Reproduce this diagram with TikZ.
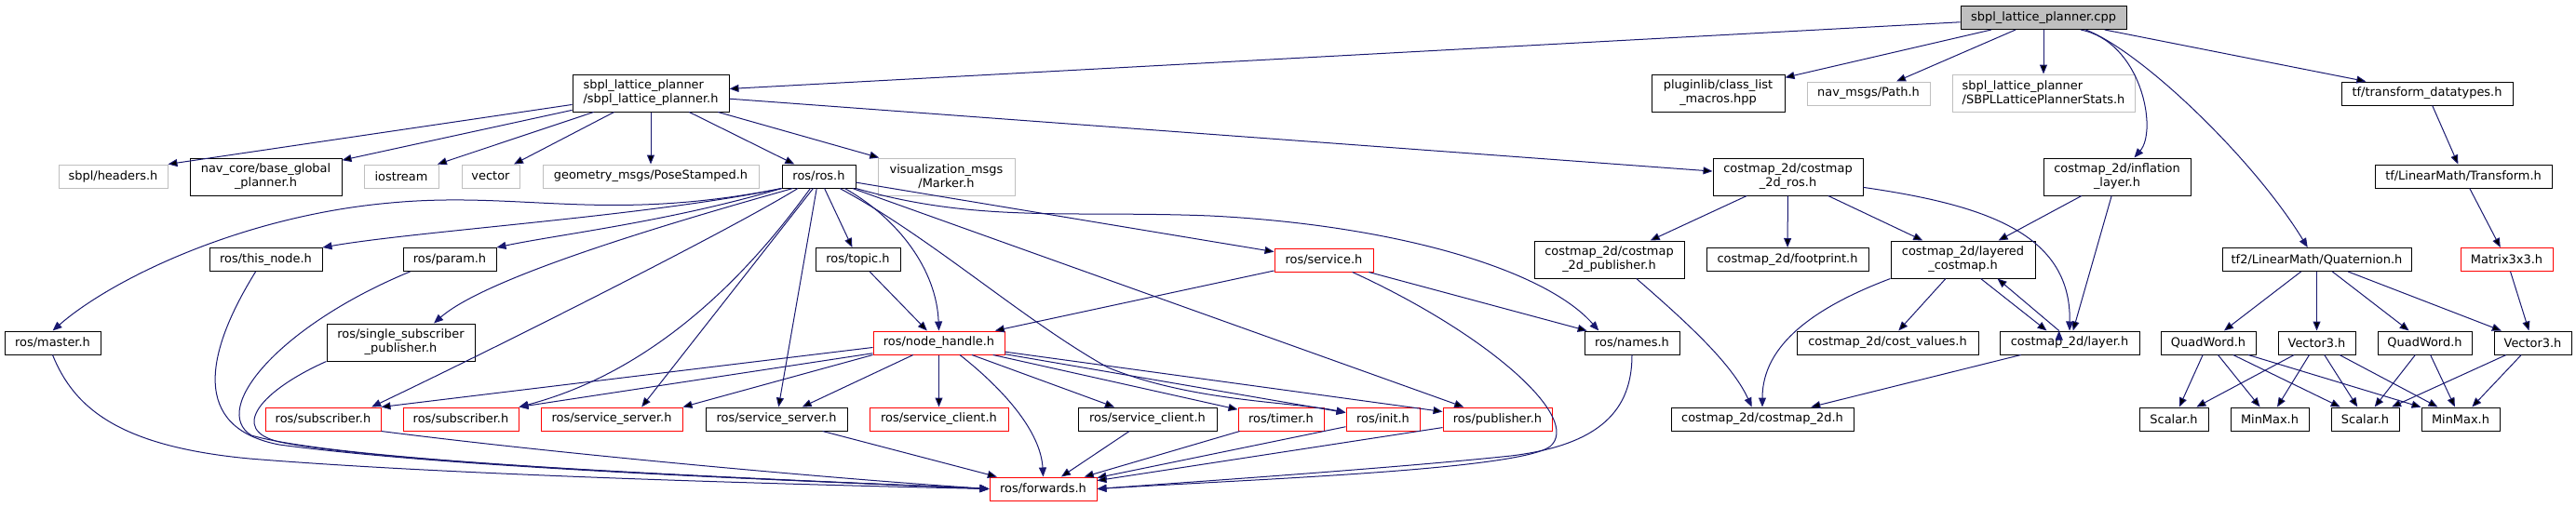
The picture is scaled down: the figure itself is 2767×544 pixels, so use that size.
\documentclass[tikz,border=0pt]{standalone}
\usepackage{fontspec}
\setmainfont{DejaVu Sans}
\usetikzlibrary{arrows.meta}

\definecolor{navy}{HTML}{191970}
\definecolor{grey75}{HTML}{BFBFBF}

\begin{document}
\begin{tikzpicture}[x=0.75pt,y=-0.75pt,font=\fontsize{9.7}{11.3}\selectfont,
   box/.style={draw=black,line width=0.75pt,inner sep=0pt,align=center,minimum height=18.75pt},
   ext/.style={box,draw=grey75},
   cut/.style={box,draw=red},
   root/.style={box,fill=grey75},
   tall/.style={minimum height=30pt},
   wd/.style={minimum width=#1*0.75pt},
   link/.style={draw=navy,line width=0.75pt,-{Triangle[length=7.5pt,width=6pt]}}]
\useasboundingbox (0,0) rectangle (2767,544);
% Here is where we put each header, one row of the graph after the other
   \node[root,wd=178] (cpp) at (2195,19) {sbpl\_lattice\_planner.cpp};

   \node[box,wd=168,tall,align=left] (sbplh) at (699,100) {sbpl\_lattice\_planner\\/sbpl\_lattice\_planner.h};
   \node[box,wd=143,tall] (plugin) at (1845.5,100) {pluginlib/class\_list\\\_macros.hpp};
   \node[ext,wd=132] (path) at (2007,100.5) {nav\_msgs/Path.h};
   \node[ext,wd=196,tall,align=left] (stats) at (2195,100) {sbpl\_lattice\_planner\\/SBPLLatticePlannerStats.h};
   \node[box,wd=184] (tfdt) at (2607,100.5) {tf/transform\_datatypes.h};

   \node[ext,wd=117] (headers) at (121.5,189.5) {sbpl/headers.h};
   \node[box,wd=163,tall] (navcore) at (285.5,190) {nav\_core/base\_global\\\_planner.h};
   \node[ext,wd=80] (iostream) at (431,189.5) {iostream};
   \node[ext,wd=62] (vector) at (527,189.5) {vector};
   \node[ext,wd=232] (pose) at (699,189.5) {geometry\_msgs/PoseStamped.h};
   \node[box,wd=79] (ros) at (879.5,189.5) {ros/ros.h};
   \node[ext,wd=147,tall] (marker) at (1016.5,190) {visualization\_msgs\\/Marker.h};
   \node[box,wd=161,tall] (cmros) at (1920.5,190) {costmap\_2d/costmap\\\_2d\_ros.h};
   \node[box,wd=158,tall] (inflation) at (2274,190) {costmap\_2d/inflation\\\_layer.h};
   \node[box,wd=190] (transform) at (2646,189.5) {tf/LinearMath/Transform.h};

   \node[box,wd=121] (thisnode) at (285.5,279) {ros/this\_node.h};
   \node[box,wd=100] (param) at (483,279) {ros/param.h};
   \node[box,wd=91] (topic) at (921.5,279) {ros/topic.h};
   \node[cut,wd=106] (service) at (1422,279.5) {ros/service.h};
   \node[box,wd=161,tall] (cmpub) at (1728.5,279) {costmap\_2d/costmap\\\_2d\_publisher.h};
   \node[box,wd=174] (footprint) at (1920,279) {costmap\_2d/footprint.h};
   \node[box,wd=155,tall] (layered) at (2108.5,279) {costmap\_2d/layered\\\_costmap.h};
   \node[box,wd=203] (quat) at (2488.5,279) {tf2/LinearMath/Quaternion.h};
   \node[cut,wd=99] (matrix) at (2692.5,279) {Matrix3x3.h};

   \node[box,wd=103] (master) at (56.5,368.5) {ros/master.h};
   \node[box,wd=159,tall] (single) at (430.5,368) {ros/single\_subscriber\\\_publisher.h};
   \node[cut,wd=141] (nodehandle) at (1008.5,368.5) {ros/node\_handle.h};
   \node[box,wd=102] (names) at (1753,368.5) {ros/names.h};
   \node[box,wd=195] (costvalues) at (2027.5,368.5) {costmap\_2d/cost\_values.h};
   \node[box,wd=150] (layer) at (2223,368.5) {costmap\_2d/layer.h};
   \node[box,wd=102] (quadA) at (2372,368.5) {QuadWord.h};
   \node[box,wd=83] (vecA) at (2488.5,368.5) {Vector3.h};
   \node[box,wd=101] (quadB) at (2604.5,368.5) {QuadWord.h};
   \node[box,wd=83] (vecB) at (2720.5,368.5) {Vector3.h};

   \node[cut,wd=124] (subA) at (347,450.5) {ros/subscriber.h};
   \node[cut,wd=124] (subB) at (495,450.5) {ros/subscriber.h};
   \node[cut,wd=152] (srvA) at (657,450.5) {ros/service\_server.h};
   \node[box,wd=152] (srvB) at (834,450.5) {ros/service\_server.h};
   \node[cut,wd=149] (cliA) at (1008.5,450.5) {ros/service\_client.h};
   \node[box,wd=149] (cliB) at (1232.5,450.5) {ros/service\_client.h};
   \node[cut,wd=92] (timer) at (1376,450.5) {ros/timer.h};
   \node[cut,wd=79] (init) at (1485.5,450.5) {ros/init.h};
   \node[cut,wd=117] (publisher) at (1608.5,450.5) {ros/publisher.h};
   \node[box,wd=196] (cmap) at (1893,450.5) {costmap\_2d/costmap\_2d.h};
   \node[box,wd=74] (scalarA) at (2335,450.5) {Scalar.h};
   \node[box,wd=84] (minmaxA) at (2438,450.5) {MinMax.h};
   \node[box,wd=73] (scalarB) at (2540.5,450.5) {Scalar.h};
   \node[box,wd=84] (minmaxB) at (2643,450.5) {MinMax.h};

   \node[cut,wd=115] (forwards) at (1120.5,525.5) {ros/forwards.h};
% Here is where we draw the includes, straight ones first and the bent ones after
    \path[link]
    (cpp) edge (sbplh)
          edge (plugin)
          edge (path)
          edge (stats)
          edge (tfdt)
    (sbplh) edge (headers.north east)
            edge (navcore)
            edge (iostream)
            edge (vector)
            edge (pose)
            edge (ros)
            edge (marker)
            edge (cmros)
    (ros) edge (srvB)
          edge (topic)
          edge (service)
          edge (publisher)
    (ros.245) edge (srvA.22)
    (topic) edge (nodehandle)
    (service) edge (nodehandle)
              edge (names)
    (nodehandle.184) edge (subA.north east)
    (nodehandle.189) edge (subB.north east)
    (nodehandle.south west) edge (srvA.north east)
    (nodehandle) edge (srvB)
                 edge (cliA)
                 edge (cliB)
                 edge (timer)
                 edge (init)
                 edge (publisher)
    (srvB) edge (forwards)
    (cliB) edge (forwards)
    (timer) edge (forwards)
    (init) edge (forwards)
    (publisher) edge (forwards)
    (cmros) edge (cmpub)
            edge (footprint)
            edge (layered)
    (inflation) edge (layered)
                edge (layer)
    (layered) edge (costvalues)
    (layered.-47) edge (layer.152)
    (layer.131) edge (layered.-29)
    (layer) edge (cmap)
    (tfdt) edge (transform)
    (transform) edge (matrix)
    (matrix) edge (vecB)
    (quat) edge (quadA)
           edge (vecA)
           edge (quadB)
           edge (vecB)
    (quadA) edge (scalarA)
            edge (minmaxA)
            edge (scalarB)
            edge (minmaxB)
    (vecA) edge (scalarA)
           edge (minmaxA)
           edge (scalarB)
           edge (minmaxB)
    (quadB) edge (scalarB)
            edge (minmaxB)
    (vecB) edge (scalarB)
           edge (minmaxB);

    \draw[link] (cpp.-18) .. controls (2300,45) and (2318,140) .. (inflation.48);
    \draw[link] (cpp.-16) .. controls (2300,55) and (2420,170) .. (quat.127);
    \draw[link] (ros.south west) .. controls (650,240) and (560,205) .. (420,218)
                .. controls (260,232) and (120,300) .. (master.north);
    \draw[link] (ros.south west) .. controls (700,232) and (450,248) .. (thisnode.north east);
    \draw[link] (ros.south west) .. controls (720,238) and (600,252) .. (param.north east);
    \draw[link] (ros.205) .. controls (700,245) and (520,300) .. (single.30);
    \draw[link] (ros.210) .. controls (780,250) and (520,380) .. (subA.14);
    \draw[link] (ros.235) .. controls (800,300) and (700,400) .. (subB.north east);
    \draw[link] (ros.-25) .. controls (965,235) and (1006,290) .. (nodehandle.north);
    \draw[link] (ros.south east) .. controls (1050,240) and (1150,226) .. (1300,232)
                .. controls (1500,242) and (1660,290) .. (names.160);
    \draw[link] (ros.-30) .. controls (1000,255) and (1100,345) .. (1190,395)
                .. controls (1280,432) and (1390,432) .. (init.170);
    \draw[link] (nodehandle.-30) .. controls (1080,420) and (1118,465) .. (forwards.north);
    \draw[link] (service.-23) .. controls (1600,360) and (1700,450) .. (1665,480)
                .. controls (1630,505) and (1350,515) .. (forwards.east);
    \draw[link] (names.south) .. controls (1753,440) and (1720,478) .. (1623,490)
                .. controls (1500,503) and (1280,518) .. (forwards.east);
    \draw[link] (master.south) .. controls (80,440) and (130,480) .. (268,493)
                .. controls (500,512) and (900,522) .. (forwards.west);
    \draw[link] (thisnode.230) .. controls (220,380) and (205,460) .. (300,478)
                .. controls (500,505) and (900,518) .. (forwards.west);
    \draw[link] (param.197) .. controls (300,350) and (225,440) .. (270,468)
                .. controls (380,500) and (900,518) .. (forwards.west);
    \draw[link] (single.south west) .. controls (280,420) and (245,462) .. (300,475)
                .. controls (420,500) and (900,518) .. (forwards.west);
    \draw[link] (subA.south east) .. controls (600,488) and (900,515) .. (forwards.west);
    \draw[link] (cmros.-8) .. controls (2130,220) and (2225,250) .. (layer.north);
    \draw[link] (layered.south west) .. controls (1950,330) and (1893,370) .. (cmap.north);
    \draw[link] (cmpub.-35) .. controls (1810,345) and (1860,390) .. (cmap.131);
\end{tikzpicture}
\end{document}
